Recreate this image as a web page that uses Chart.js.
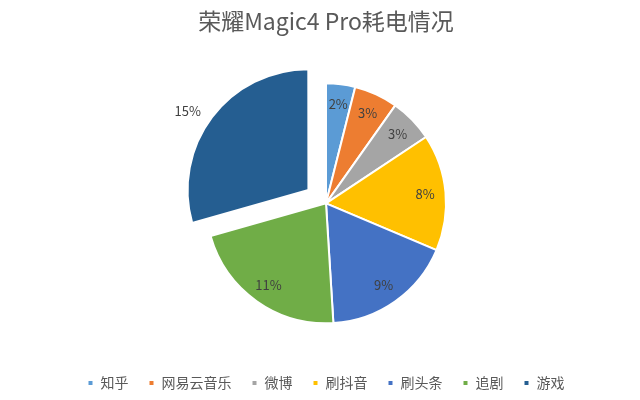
<!DOCTYPE html>
<html>
<head>
<meta charset="utf-8">
<script src="https://cdn.jsdelivr.net/npm/chart.js@4"></script>
<style>
  html, body { margin: 0; padding: 0; background: #fff; }
  #wrap { width: 640px; height: 400px; }
</style>
</head>
<body>
<div id="wrap"><canvas id="pieChart"></canvas></div>
<script>
// Data
const categories = ["知乎", "网易云音乐", "微博", "刷抖音", "刷头条", "追剧", "游戏"];
const usage = [2, 3, 3, 8, 9, 11, 15];
const valueLabels = ["2%", "3%", "3%", "8%", "9%", "11%", "15%"];
const sliceColors = ["#5B9BD5", "#ED7D31", "#A5A5A5", "#FFC000", "#4472C4", "#70AD47", "#255E91"];
const explode = [0, 0, 0, 0, 0, 0, 88]; // chart.js moves the slice by offset / 4

const FONT = "'Noto Sans CJK SC', 'Noto Sans', sans-serif";

// Draw the percentage labels on each slice
const sliceLabels = {
    id: "sliceLabels",
    afterDatasetsDraw(chart) {
        const ctx = chart.ctx;
        const arcs = chart.getDatasetMeta(0).data;
        ctx.save();
        ctx.font = "13px " + FONT;
        ctx.fillStyle = "#404040";
        ctx.textAlign = "center";
        ctx.textBaseline = "middle";
        arcs.forEach((arc, i) => {
            const p = arc.getProps(["x", "y", "startAngle", "endAngle", "outerRadius"], true);
            let mid = (p.startAngle + p.endAngle) / 2;
            const shift = explode[i] / 4;
            // big slice gets its label just outside (a bit lower, like excel), the rest inside near the rim
            if (shift > 0) mid -= 0.06;
            const r = shift > 0 ? p.outerRadius * 1.2 + shift : p.outerRadius * 0.83;
            const x = p.x + Math.cos(mid) * r;
            const y = p.y + Math.sin(mid) * r;
            ctx.fillText(valueLabels[i], x, y);
        });
        ctx.restore();
    }
};

new Chart(document.getElementById("pieChart"), {
    type: "pie",
    data: {
        labels: categories,
        datasets: [{
            data: usage,
            backgroundColor: sliceColors,
            borderColor: "#ffffff",
            borderWidth: 2,
            offset: explode,
        }],
    },
    options: {
        responsive: true,
        maintainAspectRatio: false,
        animation: false,
        radius: 120,
        layout: { padding: { left: 12, right: 0, top: 0, bottom: 0 } },
        plugins: {
            title: {
                display: true,
                text: "荣耀Magic4 Pro耗电情况",
                color: "#595959",
                font: { family: FONT, size: 23, weight: "normal" },
                padding: { top: 7, bottom: 16 },
            },
            legend: {
                position: "bottom",
                labels: {
                    color: "#595959",
                    font: { family: FONT, size: 14 },
                    boxWidth: 6,
                    boxHeight: 6,
                    padding: 20,
                },
            },
            tooltip: { enabled: false },
        },
    },
    plugins: [sliceLabels],
});
</script>
</body>
</html>
